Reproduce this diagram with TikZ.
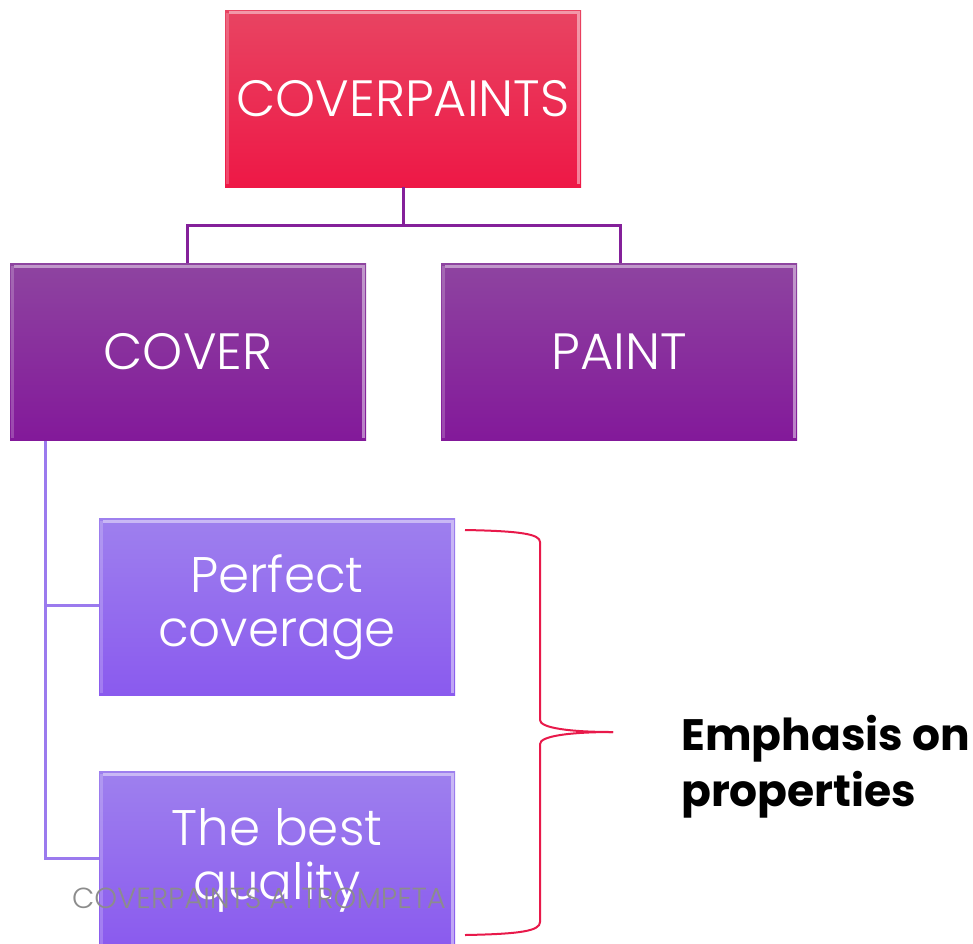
\documentclass[tikz,border=0pt]{standalone}
\usepackage{fontspec}
\setmainfont{Poppins}
\newfontfamily\lightfont{Poppins Light}
\definecolor{redtop}{HTML}{E84462}
\definecolor{redbot}{HTML}{EE1846}
\definecolor{purtop}{HTML}{8E44A0}
\definecolor{purbot}{HTML}{83199A}
\definecolor{lavtop}{HTML}{9E80EE}
\definecolor{lavbot}{HTML}{8A5AEE}
\definecolor{purline}{HTML}{84209A}
\definecolor{lavline}{HTML}{9B7AEE}
\definecolor{bracered}{HTML}{E8194A}
\definecolor{footgray}{HTML}{8C8C8C}
\tikzset{
  boxbase/.style={minimum width=356pt, minimum height=177pt, inner sep=0pt, text=white, align=center, font=\lightfont\fontsize{51}{54}\selectfont},
  redbox/.style={boxbase, top color=redtop, bottom color=redbot},
  purbox/.style={boxbase, top color=purtop, bottom color=purbot},
  lavbox/.style={boxbase, top color=lavtop, bottom color=lavbot, font=\lightfont\fontsize{50}{54}\selectfont},
  hilite/.style={white, opacity=0.45, line width=3pt},
  purconn/.style={purline, line width=3pt},
  lavconn/.style={lavline, line width=3pt},
  bracestyle/.style={bracered, line width=2pt},
}
\begin{document}
\begin{tikzpicture}[x=1pt,y=-1pt]
\useasboundingbox (0,0) rectangle (973,943);
\coordinate (jt) at (403,225);
\coordinate (jl) at (187,225);
\coordinate (jr) at (620,225);
\coordinate (lv1) at (45,605);
\coordinate (lv2) at (45,858);
\node[redbox] (top) at (403,98.5) {COVERPAINTS};
\node[purbox] (cover) at (188,352) {COVER};
\node[purbox] (paint) at (619,352) {PAINT};
\node[lavbox] (perf) at (277,607) {Perfect\\coverage};
\node[lavbox] (best) at (277,860) {The best\\quality};
\draw[purconn] (top.south) -- (jt) -- (jl) -- (cover.north -| jl);
\draw[purconn] (jt) -- (jr) -- (paint.north -| jr);
\draw[lavconn] (cover.south -| lv1) -- (lv2) -- (best.west |- lv2);
\draw[lavconn] (lv1) -- (perf.west |- lv1);
\foreach \b in {top,cover,paint,perf,best}{
  \draw[hilite] ([shift={(4pt,-3pt)}]\b.north west) -- ([shift={(-3pt,-3pt)}]\b.north east) -- ([shift={(-3pt,3pt)}]\b.south east);
  \draw[white, opacity=0.2, line width=3pt] ([shift={(3pt,-3pt)}]\b.north west) -- ([shift={(3pt,3pt)}]\b.south west);
}
\coordinate (btop) at (465,530);
\coordinate (bbot) at (465,935);
\coordinate (btip) at (613,732);
\draw[bracestyle] (btop) .. controls (520,531) and (540,534) .. (540,542) -- (540,720) .. controls (540,728) and (570,732) .. (btip);
\draw[bracestyle] (btip) .. controls (570,732) and (540,736) .. (540,744) -- (540,922) .. controls (540,931) and (520,934) .. (bbot);
\node[anchor=west, align=left, font=\bfseries\fontsize{44}{56}\selectfont, inner sep=0pt] (emph) at (681,767) {Emphasis on\\properties};
\node[text=footgray, font=\lightfont\fontsize{29}{32}\selectfont, anchor=base, inner sep=0pt] (foot) at (259,908) {COVERPAINTS A. TROMPETA};
\end{tikzpicture}
\end{document}
